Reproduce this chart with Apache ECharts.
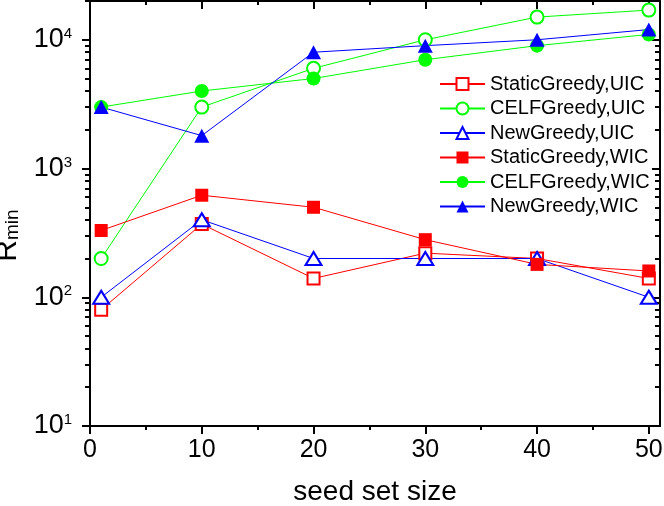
<!DOCTYPE html>
<html>
<head>
<meta charset="utf-8">
<title>R_min vs seed set size</title>
<script src="https://cdn.jsdelivr.net/npm/echarts@6/dist/echarts.min.js"></script>
<style>
  html, body { margin: 0; padding: 0; background: #fff; }
  #chart { width: 664px; height: 506px; }
</style>
</head>
<body>
<div id="chart"></div>
<script>
const seedSizes = [1, 10, 20, 30, 40, 50]

const staticUIC = [80, 370, 140, 220, 200, 140]
const celfUIC = [200, 3000, 6000, 10000, 15000, 17000]
const newUIC = [100, 400, 200, 200, 200, 100]
const staticWIC = [330, 620, 500, 280, 180, 160]
const celfWIC = [3000, 4000, 5000, 7000, 9000, 11000]
const newWIC = [3000, 1800, 8000, 9000, 10000, 12000]

const xMajorTicks = [0, 10, 20, 30, 40, 50]
const xMinorTicks = [5, 15, 25, 35, 45]
const yMajorTicks = [10, 100, 1000, 10000]
const yMinorSteps = [2, 3, 4, 5, 6, 7, 8, 9]

const yMinorTicks = []
yMajorTicks.forEach(d => {
  yMinorSteps.forEach(m => {
    if (d * m <= 20000) yMinorTicks.push(d * m)
  })
})

const FONT = 'Liberation Sans, Arial, sans-serif'
const RED = '#ff0000'
const GREEN = '#00ff00'
const BLUE = '#0000ff'

const toPoints = (ys) => seedSizes.map((x, i) => [x, ys[i]])

const makeSeries = (name, ys, color, symbol, size, empty) => ({
  name: name,
  type: 'line',
  data: toPoints(ys),
  symbol: symbol,
  symbolSize: size,
  showAllSymbol: true,
  lineStyle: { color: color, width: 1 },
  itemStyle: {
    color: color,
    borderColor: color,
    borderWidth: empty ? 1.5 : 0
  },
  emphasis: { disabled: true }
})

const xAxisBase = (position, ticks, len, inside, showLine) => ({
  type: 'value',
  position: position,
  min: 0,
  max: 51,
  splitLine: { show: false },
  axisLine: { show: showLine, onZero: false, lineStyle: { color: '#000', width: 2 } },
  axisTick: {
    show: true,
    inside: inside,
    length: len,
    customValues: ticks,
    lineStyle: { color: '#000', width: 2 }
  },
  axisLabel: { show: false }
})

const yAxisBase = (position, ticks, len, inside, showLine) => ({
  type: 'log',
  logBase: 10,
  position: position,
  min: 10,
  max: 20000,
  splitLine: { show: false },
  axisLine: { show: showLine, onZero: false, lineStyle: { color: '#000', width: 2 } },
  axisTick: {
    show: true,
    inside: inside,
    length: len,
    customValues: ticks,
    lineStyle: { color: '#000', width: 2 }
  },
  axisLabel: { show: false }
})

const chart = echarts.init(document.getElementById('chart'), null, { renderer: 'canvas' })

const bottomAxis = xAxisBase('bottom', xMajorTicks, 8, false, true)
bottomAxis.axisLabel = {
  show: true,
  customValues: xMajorTicks,
  margin: 12,
  fontSize: 25,
  fontFamily: FONT,
  color: '#000'
}
bottomAxis.name = 'seed set size'
bottomAxis.nameLocation = 'middle'
bottomAxis.nameGap = 52
bottomAxis.nameTextStyle = { fontSize: 28, fontFamily: FONT, color: '#000' }

const leftAxis = yAxisBase('left', yMajorTicks, 8, false, true)
leftAxis.axisLabel = {
  show: true,
  customValues: yMajorTicks,
  margin: 18,
  fontFamily: FONT,
  color: '#000',
  formatter: (v) => '{b|10}{s|' + Math.round(Math.log10(v)) + '}',
  rich: {
    b: { fontSize: 27, fontFamily: FONT, color: '#000' },
    s: { fontSize: 15, fontFamily: FONT, color: '#000', verticalAlign: 'top' }
  }
}
leftAxis.name = '{r|R}{m|min}'
leftAxis.nameLocation = 'middle'
leftAxis.nameGap = 56
leftAxis.nameTextStyle = {
  color: '#000',
  fontFamily: FONT,
  padding: [0, 44, 0, 0],
  rich: {
    r: { fontSize: 30, fontFamily: FONT, color: '#000' },
    m: { fontSize: 19, fontFamily: FONT, color: '#000', verticalAlign: 'bottom' }
  }
}

const option = {
  animation: false,
  backgroundColor: '#fff',
  grid: {
    left: 90,
    right: 4,
    top: 1,
    bottom: 80,
    containLabel: false,
    outerBoundsMode: 'none'
  },
  legend: {
    orient: 'vertical',
    left: 434,
    top: 69,
    itemWidth: 45,
    itemHeight: 15,
    itemGap: 4.5,
    textStyle: { fontSize: 20, fontFamily: FONT, color: '#000' },
    data: [
      'StaticGreedy,UIC', 'CELFGreedy,UIC', 'NewGreedy,UIC',
      'StaticGreedy,WIC', 'CELFGreedy,WIC', 'NewGreedy,WIC'
    ]
  },
  xAxis: [
    bottomAxis,
    xAxisBase('bottom', xMinorTicks, 4, false, false),
    xAxisBase('top', xMajorTicks, 8, true, true),
    xAxisBase('top', xMinorTicks, 4, true, false)
  ],
  yAxis: [
    leftAxis,
    yAxisBase('left', yMinorTicks, 5, false, false),
    yAxisBase('right', yMajorTicks, 8, true, true),
    yAxisBase('right', yMinorTicks, 5, true, false)
  ],
  series: [
    makeSeries('StaticGreedy,UIC', staticUIC, RED, 'emptyRect', 12, true),
    makeSeries('CELFGreedy,UIC', celfUIC, GREEN, 'emptyCircle', 13, true),
    makeSeries('NewGreedy,UIC', newUIC, BLUE, 'emptyTriangle', [16, 13], true),
    makeSeries('StaticGreedy,WIC', staticWIC, RED, 'rect', 13, false),
    makeSeries('CELFGreedy,WIC', celfWIC, GREEN, 'circle', 14, false),
    makeSeries('NewGreedy,WIC', newWIC, BLUE, 'triangle', [15, 14], false)
  ]
}

chart.setOption(option)

window.addEventListener('resize', () => {
  chart.resize()
})
</script>
</body>
</html>
